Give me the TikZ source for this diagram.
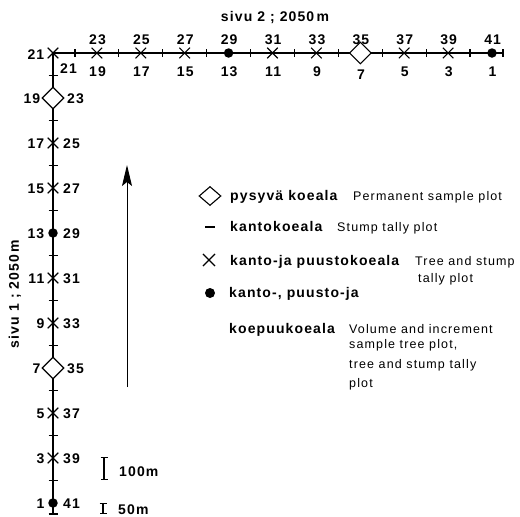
\documentclass[tikz,border=0pt]{standalone}
\usepackage{fontspec}
\setmainfont{Liberation Sans}
\newfontfamily\boldfam{Liberation Sans}[LetterSpace=8]
\newfontfamily\regfam{Liberation Sans}[LetterSpace=9]
\usetikzlibrary{shapes.geometric,shapes.misc,arrows.meta}
\newcommand{\numfont}{\boldfam\bfseries\fontsize{14}{16}\selectfont}
\newcommand{\regfont}{\regfam\fontsize{12.5}{15}\selectfont}
\tikzset{
  trackline/.style={line width=1.2pt, line cap=butt},
  xplot/.style={draw, cross out, minimum size=9.5pt, inner sep=0pt, line width=1.1pt},
  pplot/.style={draw, diamond, fill=white, minimum width=22pt, minimum height=22pt, inner sep=0pt, line width=1.1pt},
  dplot/.style={circle, fill, minimum size=9.5pt, inner sep=0pt},
  num/.style={font=\numfont, inner sep=0pt},
  lbold/.style={font=\numfont, inner sep=0pt, anchor=base west},
  lreg/.style={font=\regfont, inner sep=0pt, anchor=base west},
  scalebar/.style={line width=1.1pt, {Bar[width=7pt]}-{Bar[width=7pt]}},
}
\begin{document}
\begin{tikzpicture}[x=1pt, y=-1pt]
\useasboundingbox (0,0) rectangle (520,517);

% end points of the two sides of the tract
\coordinate (c0) at (53,53);
\coordinate (end1) at (53,514);
\coordinate (end2) at (503,53);
\draw[trackline] (end1) -- (c0) -- (end2);

% stump tally plots (short cross ticks)
\foreach \k in {1,...,10}{
  \pgfmathsetmacro\xx{53+43.9*(\k-0.5)}
  \draw[trackline] (\xx,49) -- (\xx,57);
  \pgfmathsetmacro\yy{53+45*(\k-0.5)}
  \draw[trackline] (48.5,\yy) -- (57.5,\yy);
}
\draw[trackline] ([yshift=4pt]end2) -- ([yshift=-4pt]end2);
\draw[trackline] ([xshift=-4.5pt]end1) -- ([xshift=4.5pt]end1);

% corner plot
\node[xplot] (p21) at (c0) {};
\node[num, anchor=base east] (l21a) at (44.5,59) {21};
\node[num, anchor=base west] (l21b) at (60,73) {21};

% side 2 (top, running to the right)
\foreach \k/\st/\dy in {1/xplot/0,2/xplot/0,3/xplot/0,4/dplot/0,5/xplot/0,
                        6/xplot/0,7/pplot/3,8/xplot/0,9/xplot/0,10/dplot/0}{
  \pgfmathsetmacro\xx{53+43.9*\k}
  \pgfmathtruncatemacro\up{21+2*\k}
  \pgfmathtruncatemacro\dn{21-2*\k}
  \node[\st] (b\k) at (\xx,53) {};
  \node[num, anchor=base] (bu\k) at (\xx+0.6,44) {\up};
  \node[num, anchor=base] (bd\k) at (\xx+0.6,76+\dy) {\dn};
}

% side 1 (left, running upwards)
\foreach \j/\st/\g in {1/pplot/4,2/xplot/0,3/xplot/0,4/dplot/0,5/xplot/0,
                       6/xplot/0,7/pplot/4,8/xplot/0,9/xplot/0,10/dplot/0}{
  \pgfmathsetmacro\yy{53+45*\j}
  \pgfmathtruncatemacro\lf{21-2*\j}
  \pgfmathtruncatemacro\rt{21+2*\j}
  \node[\st] (a\j) at (53,\yy) {};
  \node[num, anchor=base east] (al\j) at (44.5-\g,\yy+5) {\lf};
  \node[num, anchor=base west] (ar\j) at (63+\g,\yy+5) {\rt};
}

% side titles
\node[num, anchor=base] (t2) at (275,21) {sivu 2 ; 2050\,m};
\node[num, rotate=90] (t1) at (15,294) {sivu 1 ; 2050\,m};

% walking direction
\coordinate (arA) at (127,387);
\coordinate (arB) at (127,165);
\draw[line width=1pt, -{Stealth[length=21pt, width=10pt, inset=4pt]}] (arA) -- (arB);

% scale bars
\coordinate (s1a) at (104,457);
\coordinate (s1b) at (104,480);
\draw[scalebar] (s1a) -- (s1b);
\node[lbold] (s1t) at (119,476) {100m};
\coordinate (s2a) at (103,503);
\coordinate (s2b) at (103,514);
\draw[scalebar] (s2a) -- (s2b);
\node[lbold] (s2t) at (118,514) {50m};

% legend
\node[pplot, minimum height=19pt] (k1) at (210,196) {};
\node[lbold] (k1f) at (230,200) {pysyvä koeala};
\node[lreg] (k1e) at (353,200) {Permanent sample plot};

\coordinate (k2a) at (205,227);
\coordinate (k2b) at (215,227);
\draw[trackline] (k2a) -- (k2b);
\node[lbold] (k2f) at (230,231) {kantokoeala};
\node[lreg] (k2e) at (337,231) {Stump tally plot};

\node[xplot, minimum size=11pt] (k3) at (209,260) {};
\node[lbold] (k3f) at (230,265) {kanto-ja puustokoeala};
\node[lreg] (k3e) at (415,265) {Tree and stump};
\node[lreg] (k3e2) at (418,282) {tally plot};

\node[dplot, minimum size=10pt] (k4) at (210,293) {};
\node[lbold] (k4f) at (229,297) {kanto-, puusto-ja};
\node[lbold] (k4f2) at (229,333) {koepuukoeala};
\node[lreg] (k4e) at (349,333) {Volume and increment};
\node[lreg] (k4e2) at (349,348) {sample tree plot,};
\node[lreg] (k4e3) at (349,368) {tree and stump tally};
\node[lreg] (k4e4) at (349,387) {plot};
\end{tikzpicture}
\end{document}
